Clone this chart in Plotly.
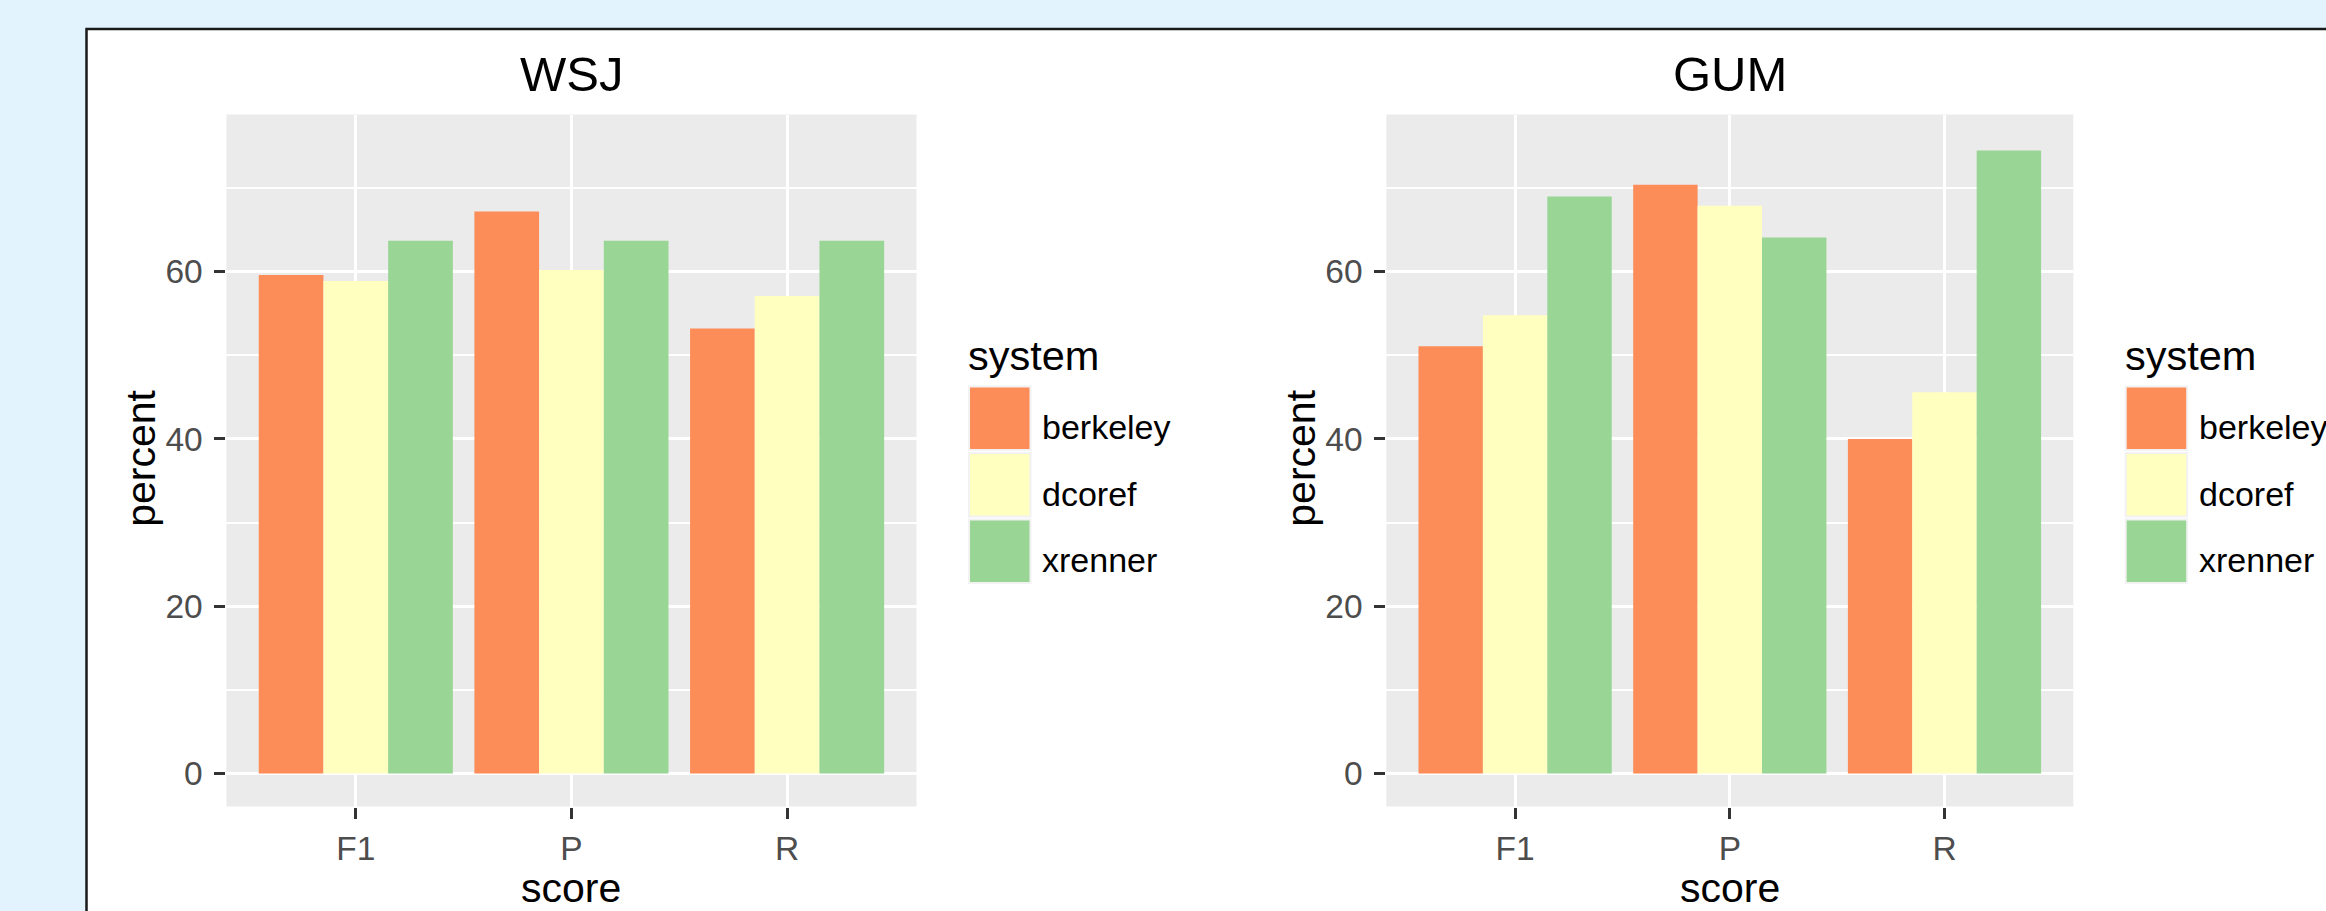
import plotly.graph_objects as go

# ---------------- data ----------------
categories = ["F1", "P", "R"]
systems = ["berkeley", "dcoref", "xrenner"]
system_colors = ["#FC8D59", "#FFFFBF", "#99D594"]

wsj_berkeley = [59.6, 67.2, 53.2]
wsj_dcoref = [58.9, 60.2, 57.1]
wsj_xrenner = [63.7, 63.7, 63.7]

gum_berkeley = [51.1, 70.4, 40.0]
gum_dcoref = [54.8, 67.9, 45.6]
gum_xrenner = [69.0, 64.1, 74.5]

y_tick_values = [0, 20, 40, 60]
panel_titles = ["WSJ", "GUM"]
x_title = "score"
y_title = "percent"
legend_title = "system"

# ---------------- geometry helpers ----------------
W, H = 2326, 911
def px(x):
    return x / W
def py(y):
    return 1 - y / H

FONT = "Liberation Sans, Arial, sans-serif"
PAGE_BG = "#E2F3FD"

fig = go.Figure()

panels = [
    dict(xa="x", ya="y", vals=[wsj_berkeley, wsj_dcoref, wsj_xrenner],
         left=226.4, right=916.5, leg_x=969.0, title=panel_titles[0]),
    dict(xa="x2", ya="y2", vals=[gum_berkeley, gum_dcoref, gum_xrenner],
         left=1386.3, right=2073.3, leg_x=2125.7, title=panel_titles[1]),
]

PANEL_TOP, PANEL_BOTTOM = 114.5, 806.5

annotations = []
shapes = []

# white card with dark border
shapes.append(dict(type="rect", xref="paper", yref="paper",
                   x0=px(86.5), x1=px(W + 20), y0=py(H + 20), y1=py(29),
                   fillcolor="white", line=dict(color="#1a1a1a", width=2.5),
                   layer="below"))

for p in panels:
    # grey panel background (drawn above the white card)
    shapes.append(dict(type="rect", xref=p["xa"] + " domain", yref=p["ya"] + " domain",
                       x0=0, x1=1, y0=0, y1=1, fillcolor="#EBEBEB",
                       line=dict(width=0), layer="below"))
    for name, col, vals in zip(systems, system_colors, p["vals"]):
        fig.add_trace(go.Bar(x=categories, y=vals, name=name,
                             marker=dict(color=col, line=dict(width=0)),
                             xaxis=p["xa"], yaxis=p["ya"], showlegend=False))
    cx = (p["left"] + p["right"]) / 2
    # panel title
    annotations.append(dict(text=p["title"], x=px(cx), y=py(74), xref="paper", yref="paper",
                            xanchor="center", yanchor="middle", showarrow=False,
                            font=dict(family=FONT, size=49, color="black")))
    # x-axis title
    annotations.append(dict(text=x_title, x=px(cx), y=py(888), xref="paper", yref="paper",
                            xanchor="center", yanchor="middle", showarrow=False,
                            font=dict(family=FONT, size=41, color="black")))
    # y-axis title
    annotations.append(dict(text=y_title, x=px(p["left"] - 85.6), y=py(458), xref="paper", yref="paper",
                            xanchor="center", yanchor="middle", textangle=-90, showarrow=False,
                            font=dict(family=FONT, size=41, color="black")))
    # legend (drawn like ggplot's guide)
    lx = p["leg_x"]
    annotations.append(dict(text=legend_title, x=px(lx - 3), y=py(356), xref="paper", yref="paper",
                            xanchor="left", yanchor="middle", showarrow=False,
                            font=dict(family=FONT, size=41.5, color="black")))
    key_tops = [386.5, 453.0, 519.5]
    for i, (name, col) in enumerate(zip(systems, system_colors)):
        t = key_tops[i]
        shapes.append(dict(type="rect", xref="paper", yref="paper",
                           x0=px(lx), x1=px(lx + 61.5), y0=py(t + 63.5), y1=py(t),
                           fillcolor=col, line=dict(color="#F2F2F2", width=2)))
        annotations.append(dict(text=name, x=px(lx + 71), y=py(t + 31.75 + 9), xref="paper", yref="paper",
                                xanchor="left", yanchor="middle", showarrow=False,
                                font=dict(family=FONT, size=34, color="black")))

axis_common = dict(showline=False, zeroline=False, ticks="outside", ticklen=11,
                   tickwidth=2.5, tickcolor="#333333",
                   tickfont=dict(family=FONT, size=33.5, color="#4D4D4D"),
                   gridcolor="white", gridwidth=3, layer="below traces")

ydomain = [py(PANEL_BOTTOM), py(PANEL_TOP)]
yrange = [-3.95, 78.8]

fig.update_layout(
    width=W, height=H,
    margin=dict(l=0, r=0, t=0, b=0),
    paper_bgcolor=PAGE_BG,
    plot_bgcolor="rgba(0,0,0,0)",
    barmode="group", bargap=0.1, bargroupgap=0,
    font=dict(family=FONT),
    annotations=annotations,
    shapes=shapes,
    xaxis=dict(domain=[px(panels[0]["left"]), px(panels[0]["right"])], anchor="y",
               range=[-0.6, 2.6], ticklabelstandoff=1, **axis_common),
    yaxis=dict(domain=ydomain, anchor="x", range=yrange, tickvals=y_tick_values,
               minor=dict(dtick=10, tick0=0, showgrid=True, gridcolor="white", gridwidth=1.5),
               ticklabelstandoff=5, **axis_common),
    xaxis2=dict(domain=[px(panels[1]["left"]), px(panels[1]["right"])], anchor="y2",
                range=[-0.6, 2.6], ticklabelstandoff=1, **axis_common),
    yaxis2=dict(domain=ydomain, anchor="x2", range=yrange, tickvals=y_tick_values,
                minor=dict(dtick=10, tick0=0, showgrid=True, gridcolor="white", gridwidth=1.5),
                ticklabelstandoff=5, **axis_common),
)

fig.write_html(
    "out.html",
    config={"displayModeBar": False},
    post_script=("document.body.style.margin='0';document.body.style.padding='0';"
                 "document.body.style.overflow='hidden';"
                 "document.body.style.background='" + PAGE_BG + "';"),
)
